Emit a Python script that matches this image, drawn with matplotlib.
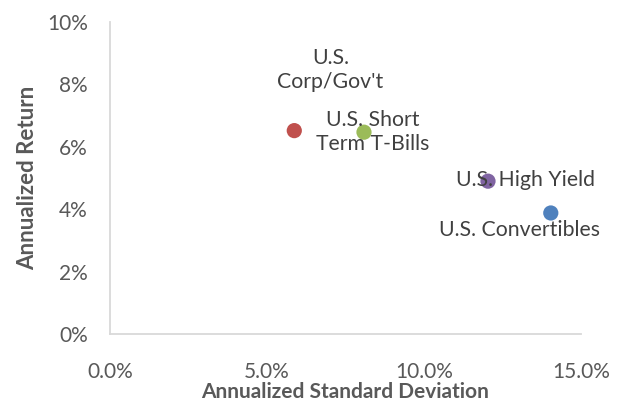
import matplotlib
matplotlib.use("Agg")
import matplotlib.pyplot as plt
from matplotlib.ticker import FuncFormatter

# annualized std dev / return, in percent
names = ["U.S. Convertibles", "U.S. High Yield", "U.S.\nCorp/Gov't", "U.S. Short\nTerm T-Bills"]
std_dev = [14.04, 12.04, 5.87, 8.09]
ann_return = [3.88, 4.90, 6.52, 6.47]
colors = ["#4F81BD", "#8064A2", "#C0504D", "#9BBB59"]
# label offsets in pixels (placement only)
offsets = [(-31, -17), (38, 1), (36, 61), (9, 0)]

plt.rcParams["font.family"] = ["Lato", "DejaVu Sans"]

fig = plt.figure(figsize=(6.26, 4.01), dpi=100)
ax = fig.add_axes([0.1757, 0.167, 0.7523, 0.778])

ax.scatter(std_dev, ann_return, s=120, c=colors, zorder=3, linewidths=0)
for name, x, y, off in zip(names, std_dev, ann_return, offsets):
    ax.annotate(name, (x, y), xytext=off, textcoords="offset pixels",
                ha="center", va="center", fontsize=15.3, color="#404040",
                linespacing=1.25)

ax.set_xlim(0, 15)
ax.set_ylim(0, 10)
ax.set_xticks([0, 5, 10, 15])
ax.set_yticks([0, 2, 4, 6, 8, 10])
ax.xaxis.set_major_formatter(FuncFormatter(lambda v, p: f"{v:.1f}%"))
ax.yaxis.set_major_formatter(FuncFormatter(lambda v, p: f"{v:.0f}%"))
ax.tick_params(length=0, labelsize=15, labelcolor="#595959")
ax.tick_params(axis="x", pad=20)
ax.tick_params(axis="y", pad=16)

for side in ["top", "right"]:
    ax.spines[side].set_visible(False)
for side in ["left", "bottom"]:
    ax.spines[side].set_color("#D9D9D9")
    ax.spines[side].set_linewidth(1.3)

ax.set_xlabel("Annualized Standard Deviation", fontsize=15, fontweight="bold", color="#595959", labelpad=0)
ax.set_ylabel("Annualized Return", fontsize=16, fontweight="bold", color="#595959", labelpad=6)

fig.savefig("out.png", dpi=100)
